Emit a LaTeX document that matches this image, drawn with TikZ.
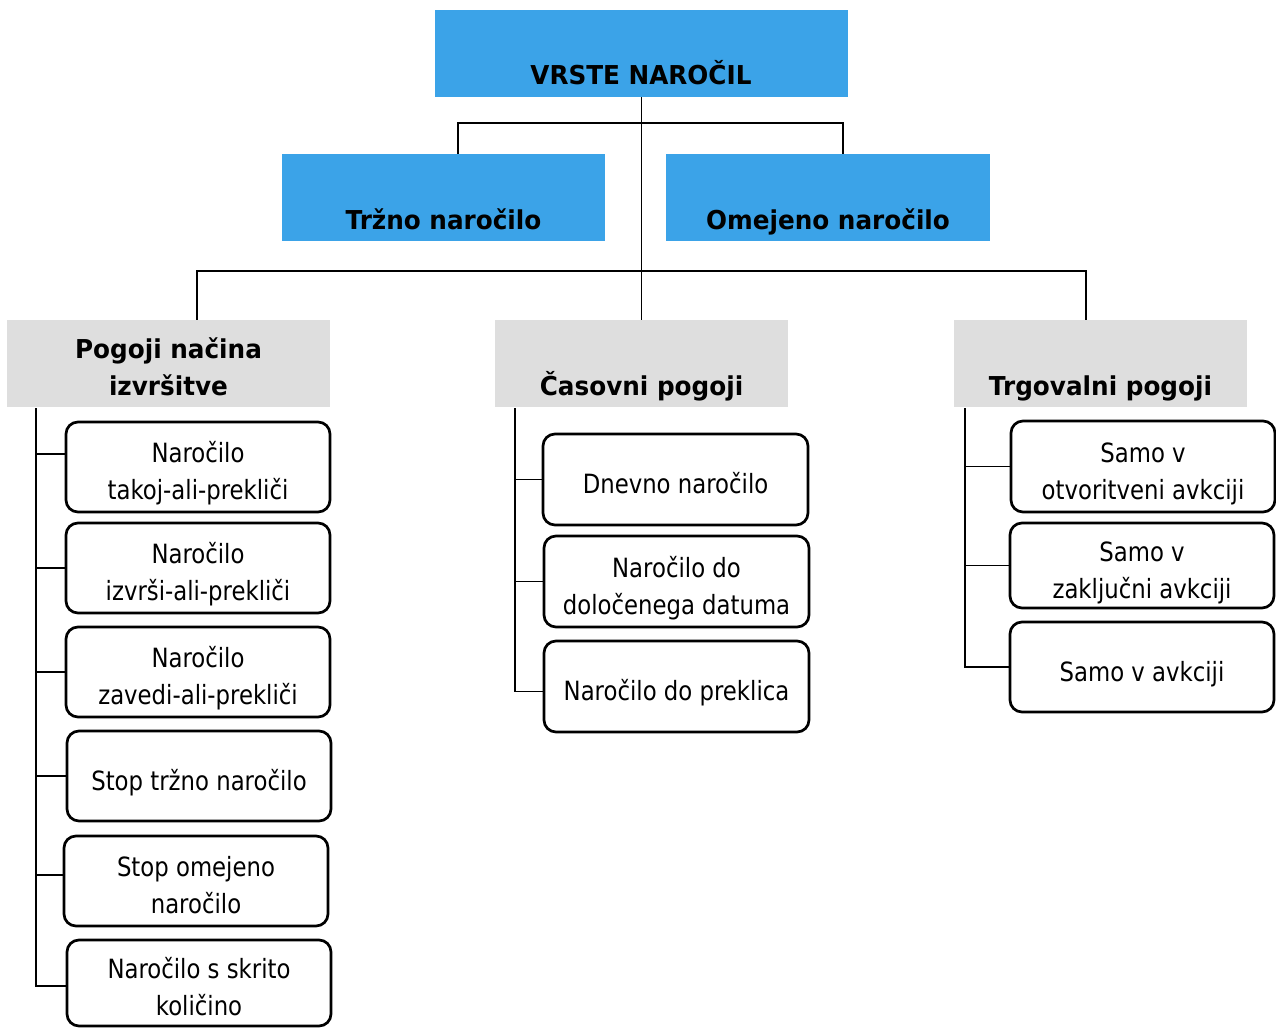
\documentclass[tikz,border=0pt]{standalone}
\usepackage{fontspec}
\setmainfont{DejaVu Sans}[FakeStretch=0.86]
\newfontfamily\hdrfont{DejaVu Sans Bold}[FakeStretch=0.95]
\definecolor{hblue}{RGB}{59,163,232}
\definecolor{hgray}{RGB}{222,222,222}
\newcommand{\TopStrut}{\rule{0pt}{35pt}}
\newcommand{\BotStrut}{\rule[-7pt]{0pt}{7pt}}
\begin{document}
\begin{tikzpicture}[x=1pt,y=-1pt,
  bluebox/.style={fill=hblue,draw=none,inner sep=0,minimum width=#1,minimum height=87},
  graybox/.style={fill=hgray,draw=none,inner sep=0,minimum width=#1,minimum height=87},
  hdr/.style={font=\hdrfont\fontsize{26}{37}\selectfont,inner sep=0,align=center},
  item/.style={draw,line width=2.7pt,rounded corners=12pt,inner sep=0,minimum width=264,minimum height=#1,align=center,font=\fontsize{26.5}{37}\selectfont},
  item/.default=90,
  conn/.style={line width=1.8pt}]
\useasboundingbox (0,0) rectangle (1276,1028);
% top level
\node[bluebox=413] (top) at (641.5,53.5) {};
\node[hdr,anchor=base] (toptxt) at (641,84) {VRSTE NAROČIL};
\node[bluebox=323] (trzno) at (443.5,197.5) {};
\node[hdr,anchor=base] (trznotxt) at (443.5,229) {Tržno naročilo};
\node[bluebox=324] (omejeno) at (828,197.5) {};
\node[hdr,anchor=base] (omejenotxt) at (828,229) {Omejeno naročilo};
% gray headers
\node[graybox=323] (pogoji) at (168.5,363.5) {};
\node[hdr] (pogojitxt) at (168.5,366.5) {Pogoji načina\\izvršitve};
\node[graybox=293] (casovni) at (641.5,363.5) {};
\node[hdr,anchor=base] (casovnitxt) at (641.5,395) {Časovni pogoji};
\node[graybox=293] (trgov) at (1100.5,363.5) {};
\node[hdr,anchor=base] (trgovtxt) at (1100.5,395) {Trgovalni pogoji};
% left column
\node[item] (L1) at (198,467) {\TopStrut Naročilo\\takoj-ali-prekliči\BotStrut};
\node[item] (L2) at (198,568) {\TopStrut Naročilo\\izvrši-ali-prekliči\BotStrut};
\node[item] (L3) at (198,672) {\TopStrut Naročilo\\zavedi-ali-prekliči\BotStrut};
\node[item] (L4) at (199,776) {\TopStrut Stop tržno naročilo\BotStrut};
\node[item] (L5) at (196,881) {\TopStrut Stop omejeno\\naročilo\BotStrut};
\node[item=86] (L6) at (199,983) {\TopStrut Naročilo s skrito\\količino\BotStrut};
% middle column
\node[item=91,minimum width=265] (M1) at (675.5,479.5) {\TopStrut Dnevno naročilo\BotStrut};
\node[item=91,minimum width=265] (M2) at (676.5,581.5) {\TopStrut Naročilo do\\določenega datuma\BotStrut};
\node[item=91,minimum width=265] (M3) at (676.5,686.5) {\TopStrut Naročilo do preklica\BotStrut};
% right column
\node[item=91] (R1) at (1143,466.5) {\TopStrut Samo v\\otvoritveni avkciji\BotStrut};
\node[item=85] (R2) at (1142,565.5) {\TopStrut Samo v\\zaključni avkciji\BotStrut};
\node[item] (R3) at (1142,667) {\TopStrut Samo v avkciji\BotStrut};
% connectors top
\draw[conn] (top.south) -- (casovni.north);
\draw[conn] ([xshift=14.5pt]trzno.north) -- ++(0,-31) -| ([xshift=15pt]omejeno.north);
\draw[conn] ([xshift=28.5pt]pogoji.north) -- ++(0,-49) -| ([xshift=-14.5pt]trgov.north);
% left trunk
\coordinate (lt) at (36,408);
\coordinate (L1b) at ([yshift=13pt]L1.west);
\coordinate (L5b) at ([yshift=6pt]L5.west);
\coordinate (L6b) at ([yshift=-3pt]L6.west);
\draw[conn] (lt) |- (L6b);
\draw[conn] (lt |- L1b) -- (L1b);
\draw[conn] (lt |- L2.west) -- (L2.west);
\draw[conn] (lt |- L3.west) -- (L3.west);
\draw[conn] (lt |- L4.west) -- (L4.west);
\draw[conn] (lt |- L5b) -- (L5b);
% middle trunk
\coordinate (mt) at (515,408);
\coordinate (M3b) at ([yshift=-5pt]M3.west);
\draw[conn] (mt) |- (M3b);
\draw[conn] (mt |- M1.west) -- (M1.west);
\draw[conn] (mt |- M2.west) -- (M2.west);
% right trunk
\coordinate (rt) at (965,408);
\draw[conn] (rt) |- (R3.west);
\draw[conn] (rt |- R1.west) -- (R1.west);
\draw[conn] (rt |- R2.west) -- (R2.west);
\end{tikzpicture}
\end{document}
